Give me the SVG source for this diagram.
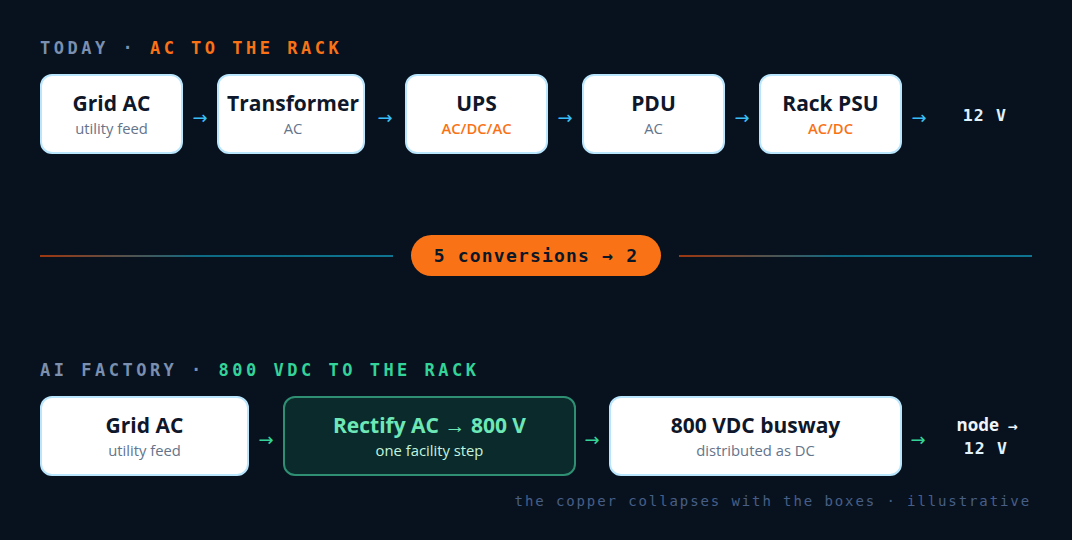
<svg xmlns="http://www.w3.org/2000/svg" width="1072" height="540" viewBox="0 0 1072 540">
<defs>
<linearGradient id="rule" x1="0" x2="1" y1="0" y2="0">
<stop offset="0" stop-color="#c2410c" stop-opacity="0.8"/>
<stop offset="0.45" stop-color="#0e7490" stop-opacity="0.9"/>
<stop offset="1" stop-color="#0e7490"/>
</linearGradient>
<style>
.head{font-family:"DejaVu Sans Mono",monospace;font-weight:700;font-size:17px;letter-spacing:3.5px}
.box{fill:#ffffff;stroke:#bae6fd;stroke-width:2}
.gbox{fill:#0a2a2b;stroke:#2f8f72;stroke-width:2}
.t{font-family:"Open Sans","Noto Sans",sans-serif;font-weight:700;font-size:21px;fill:#0f172a;text-anchor:middle}
.s{font-family:"Open Sans","Noto Sans",sans-serif;font-size:14.8px;fill:#64748b;text-anchor:middle}
.so{fill:#f97316;font-weight:600}
.ab{font-family:"DejaVu Sans",sans-serif;font-size:18px;fill:#38bdf8;text-anchor:middle}
.ag{font-family:"DejaVu Sans",sans-serif;font-size:18px;fill:#34d399;text-anchor:middle}
.out{font-family:"DejaVu Sans Mono",monospace;font-weight:700;font-size:16.5px;fill:#e0f2fe;text-anchor:middle;letter-spacing:1.2px}
</style>
</defs>
<rect width="1072" height="540" fill="#08121f"/>

<text x="40" y="54" class="head"><tspan fill="#7b8fae">TODAY · </tspan><tspan fill="#f97316">AC TO THE RACK</tspan></text>

<g id="t-grid"><rect class="box" x="41" y="75" width="141" height="78" rx="11"/><text class="t" x="111.5" y="111">Grid AC</text><text class="s" x="111.5" y="134">utility feed</text></g>
<g id="t-transformer"><rect class="box" x="218" y="75" width="146" height="78" rx="11"/><text class="t" x="293" y="111">Transformer</text><text class="s" x="293" y="134">AC</text></g>
<g id="t-ups"><rect class="box" x="406" y="75" width="141" height="78" rx="11"/><text class="t" x="476.5" y="111">UPS</text><text class="s so" x="476.5" y="134">AC/DC/AC</text></g>
<g id="t-pdu"><rect class="box" x="583" y="75" width="141" height="78" rx="11"/><text class="t" x="653.5" y="111">PDU</text><text class="s" x="653.5" y="134">AC</text></g>
<g id="t-psu"><rect class="box" x="760" y="75" width="141" height="78" rx="11"/><text class="t" x="830.5" y="111">Rack PSU</text><text class="s so" x="830.5" y="134">AC/DC</text></g>
<g id="t-out"><text class="out" x="985" y="121">12 V</text></g>

<g id="connectors">
<text class="ab" x="200" y="124">→</text>
<text class="ab" x="385" y="124">→</text>
<text class="ab" x="565" y="124">→</text>
<text class="ab" x="742" y="124">→</text>
<text class="ab" x="919" y="124">→</text>
<text class="ag" x="266" y="446">→</text>
<text class="ag" x="592" y="446">→</text>
<text class="ag" x="918" y="446">→</text>
</g>

<g id="divider">
<rect x="40" y="255" width="353" height="2" fill="url(#rule)"/>
<rect x="679" y="255" width="353" height="2" fill="url(#rule)"/>
<rect x="411" y="235" width="250" height="41" rx="20.5" fill="#f97316"/>
<text x="536" y="262" font-family="DejaVu Sans Mono,monospace" font-weight="700" font-size="18" letter-spacing="1.2" fill="#0b1626" text-anchor="middle">5 conversions → 2</text>
</g>

<text x="40" y="376" class="head"><tspan fill="#7b8fae">AI FACTORY · </tspan><tspan fill="#34d399">800 VDC TO THE RACK</tspan></text>

<g id="b-grid"><rect class="box" x="41" y="397" width="207" height="78" rx="11"/><text class="t" x="144.5" y="433">Grid AC</text><text class="s" x="144.5" y="456">utility feed</text></g>
<g id="b-rectify"><rect class="gbox" x="284" y="397" width="291" height="78" rx="11"/><text class="t" x="429.5" y="433" style="fill:#6ee7b7">Rectify AC → 800 V</text><text class="s" x="429.5" y="456" style="fill:#c3f5de">one facility step</text></g>
<g id="b-busway"><rect class="box" x="610" y="397" width="291" height="78" rx="11"/><text class="t" x="755.5" y="433">800 VDC busway</text><text class="s" x="755.5" y="456">distributed as DC</text></g>
<g id="b-out"><text x="987" y="431" font-family="Open Sans,Noto Sans,sans-serif" font-weight="700" font-size="17" fill="#f1f5f9" text-anchor="middle">node  <tspan font-family="DejaVu Sans,sans-serif" font-size="12" dx="4">→</tspan></text><text class="out" x="986" y="454">12 V</text></g>

<text x="1031" y="506" font-family="DejaVu Sans Mono,monospace" font-size="14" letter-spacing="1.9" fill="#475f86" text-anchor="end">the copper collapses with the boxes · illustrative</text>
</svg>
